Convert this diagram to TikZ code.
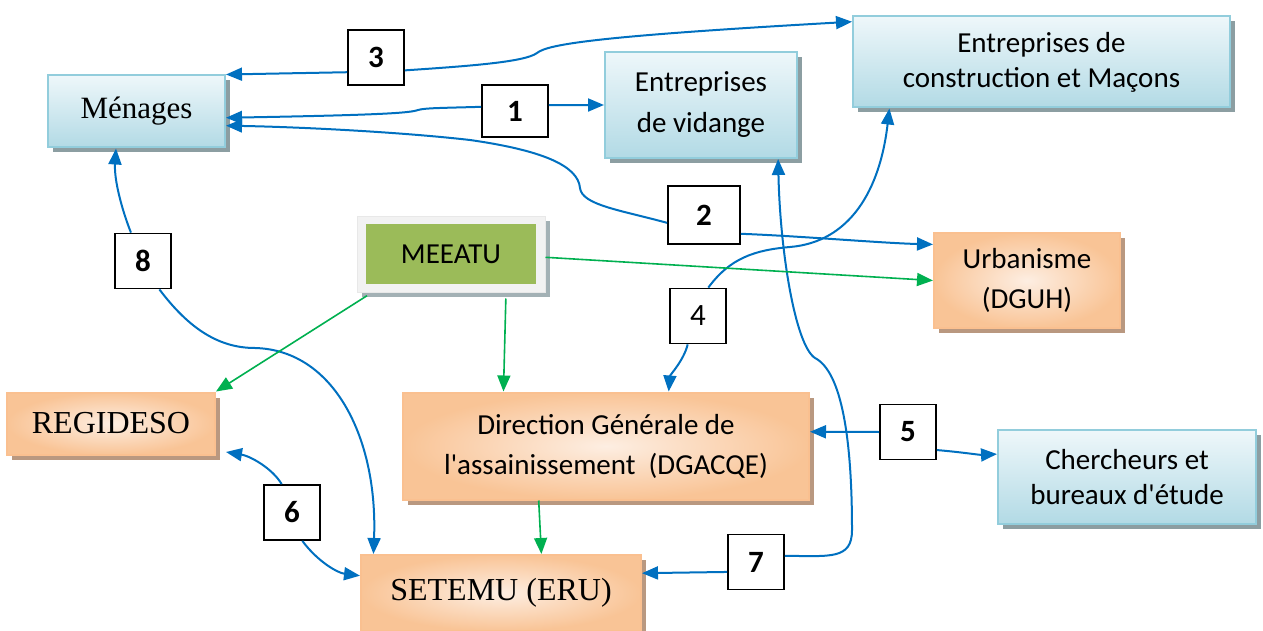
\documentclass[tikz,border=0pt]{standalone}
\usepackage{fontspec}
\setmainfont{Liberation Serif}
\newfontfamily\calibri{Carlito}
\usetikzlibrary{shadows,arrows.meta}

\definecolor{bordbleu}{RGB}{146,205,220}
\definecolor{hautbleu}{RGB}{238,247,250}
\definecolor{basbleu}{RGB}{178,218,229}
\definecolor{ombrebleu}{RGB}{140,158,162}
\definecolor{bordorange}{RGB}{250,192,144}
\definecolor{orangeclair}{RGB}{253,238,226}
\definecolor{orangefonce}{RGB}{249,196,150}
\definecolor{ombreorange}{RGB}{185,152,128}
\definecolor{olive}{RGB}{155,187,89}
\definecolor{lienbleu}{RGB}{0,112,192}
\definecolor{lienvert}{RGB}{0,176,80}

\begin{document}
\begin{tikzpicture}[x=1pt,y=-1pt,
  boxbleu/.style={draw=bordbleu,line width=2pt,top color=hautbleu,bottom color=basbleu,
    drop shadow={shadow xshift=5pt,shadow yshift=-5pt,fill=ombrebleu,opacity=1},
    align=center,inner sep=0pt},
  boxorange/.style={draw=bordorange,line width=2pt,inner color=orangeclair,outer color=orangefonce,
    drop shadow={shadow xshift=5pt,shadow yshift=-5pt,fill=ombreorange,opacity=1},
    align=center,inner sep=0pt},
  num/.style={draw,line width=1.8pt,fill=white,minimum width=56pt,minimum height=55pt,
    inner sep=0pt,font=\calibri\fontsize{31}{31}\selectfont\bfseries},
  lien/.style={draw=lienbleu,line width=2pt},
  vert/.style={draw=lienvert,line width=1.6pt},
  >={Stealth[length=16pt,width=13pt,inset=0pt]}]
  \useasboundingbox (0,0) rectangle (1263,631);

  % boites
  \node[boxbleu,minimum width=177pt,minimum height=72pt,font=\fontsize{31}{36}\selectfont] (menages) at (136.5,111.5) {Ménages};
  \node[boxbleu,minimum width=192pt,minimum height=106pt,font=\calibri\fontsize{29}{41}\selectfont] (vidange) at (701,105) {Entreprises\\de vidange};
  \node[boxbleu,minimum width=377pt,minimum height=91pt,font=\calibri\fontsize{29}{35}\selectfont] (constr) at (1041.5,62) {Entreprises de\\construction et Maçons};
  \node[fill={rgb,255:red,242;green,242;blue,242},draw={rgb,255:red,232;green,232;blue,232},line width=1pt,
    minimum width=188pt,minimum height=76pt,
    drop shadow={shadow xshift=5pt,shadow yshift=-5pt,fill=ombrebleu!80,opacity=1}] (meeatu) at (451,254) {};
  \node[fill=olive,minimum width=170pt,minimum height=60pt,font=\calibri\fontsize{29}{35}\selectfont] (meeatuin) at (meeatu) {MEEATU};
  \node[boxorange,minimum width=186pt,minimum height=95pt,font=\calibri\fontsize{29}{40}\selectfont] (urban) at (1027,280.5) {Urbanisme\\(DGUH)};
  \node[boxorange,minimum width=208pt,minimum height=62pt,font=\fontsize{32}{36}\selectfont] (regideso) at (111,423.5) {REGIDESO};
  \node[boxorange,minimum width=406pt,minimum height=107pt,font=\calibri\fontsize{29}{40}\selectfont] (dgacqe) at (606,446) {Direction Générale de\\l'assainissement~~(DGACQE)};
  \node[boxbleu,minimum width=258pt,minimum height=94pt,font=\calibri\fontsize{29}{35}\selectfont] (cherch) at (1127,477) {Chercheurs et\\bureaux d'étude};
  \node[boxorange,minimum width=280pt,minimum height=76pt,font=\fontsize{32}{36}\selectfont] (setemu) at (501,593) {SETEMU (ERU)};

  % numeros
  \node[num] (n3) at (376,57.5) {3};
  \node[num,minimum width=66pt,minimum height=52pt] (n1) at (515,111) {1};
  \node[num,minimum width=72pt,minimum height=58pt] (n2) at (704,215) {2};
  \node[num,font=\calibri\fontsize{31}{31}\selectfont] (n4) at (698,316) {4};
  \node[num] (n5) at (908,432) {5};
  \node[num] (n6) at (292,512.5) {6};
  \node[num] (n7) at (756,562) {7};
  \node[num] (n8) at (143,261) {8};
  \coordinate (r6) at (226,452);

  % liens
  \draw[lien,->] (n3.207) -- (menages.north east);
  \draw[lien,->] (n3.-24) .. controls (470,66) and (525,62) .. (537,53) .. controls (548,44) and (600,36) .. (constr.168);
  \draw[lien,->] (n1.173) .. controls (440,108) and (425,108) .. (418,110) .. controls (410,113) and (380,115) .. (menages.-4);
  \draw[lien,->] (n1.10) -- (vidange.west);
  \draw[lien,->] (n2.192) .. controls (620,210) and (582,205) .. (580,188) .. controls (578,165) and (540,150) .. (470,140) .. controls (400,132) and (300,127) .. (menages.-9);
  \draw[lien,->] (n2.-27) .. controls (800,236) and (880,243) .. (urban.159);
  \draw[lien,->] (n4.70) .. controls (730,258) and (755,250) .. (790,247) .. controls (850,242) and (880,190) .. (constr.197);
  \draw[lien,->] (n4.250) .. controls (684,360) and (670,375) .. (dgacqe.41);
  \draw[lien,->] (n5.west) -- (dgacqe.4);
  \draw[lien,->] (n5.-32) .. controls (960,452) and (980,455) .. (cherch.170);
  \draw[lien,->] (n6.110) .. controls (272,468) and (250,456) .. (r6);
  \draw[lien,->] (n6.-70) .. controls (318,562) and (338,573) .. (setemu.173);
  \draw[lien,->] (n7.199) -- (setemu.8);
  \draw[lien,->] (n7.12) .. controls (830,556) and (852,560) .. (852,530) .. controls (852,440) and (842,372) .. (815,358) .. controls (795,345) and (780,250) .. (vidange.-35);
  \draw[lien,->] (n8.113) .. controls (122,210) and (114,180) .. (menages.241);
  \draw[lien,->] (n8.-60) .. controls (190,330) and (220,348) .. (255,348) .. controls (335,350) and (378,440) .. (setemu.163);
  \draw[vert,->] (meeatu.-2) -- (urban.west);
  \draw[vert,->,shorten <=6pt] (meeatu.206) -- (regideso.north east);
  \draw[vert,->,shorten <=6pt] (meeatu.-35) -- (dgacqe.152);
  \draw[vert,->] (dgacqe.219) -- (setemu.44);
\end{tikzpicture}
\end{document}
